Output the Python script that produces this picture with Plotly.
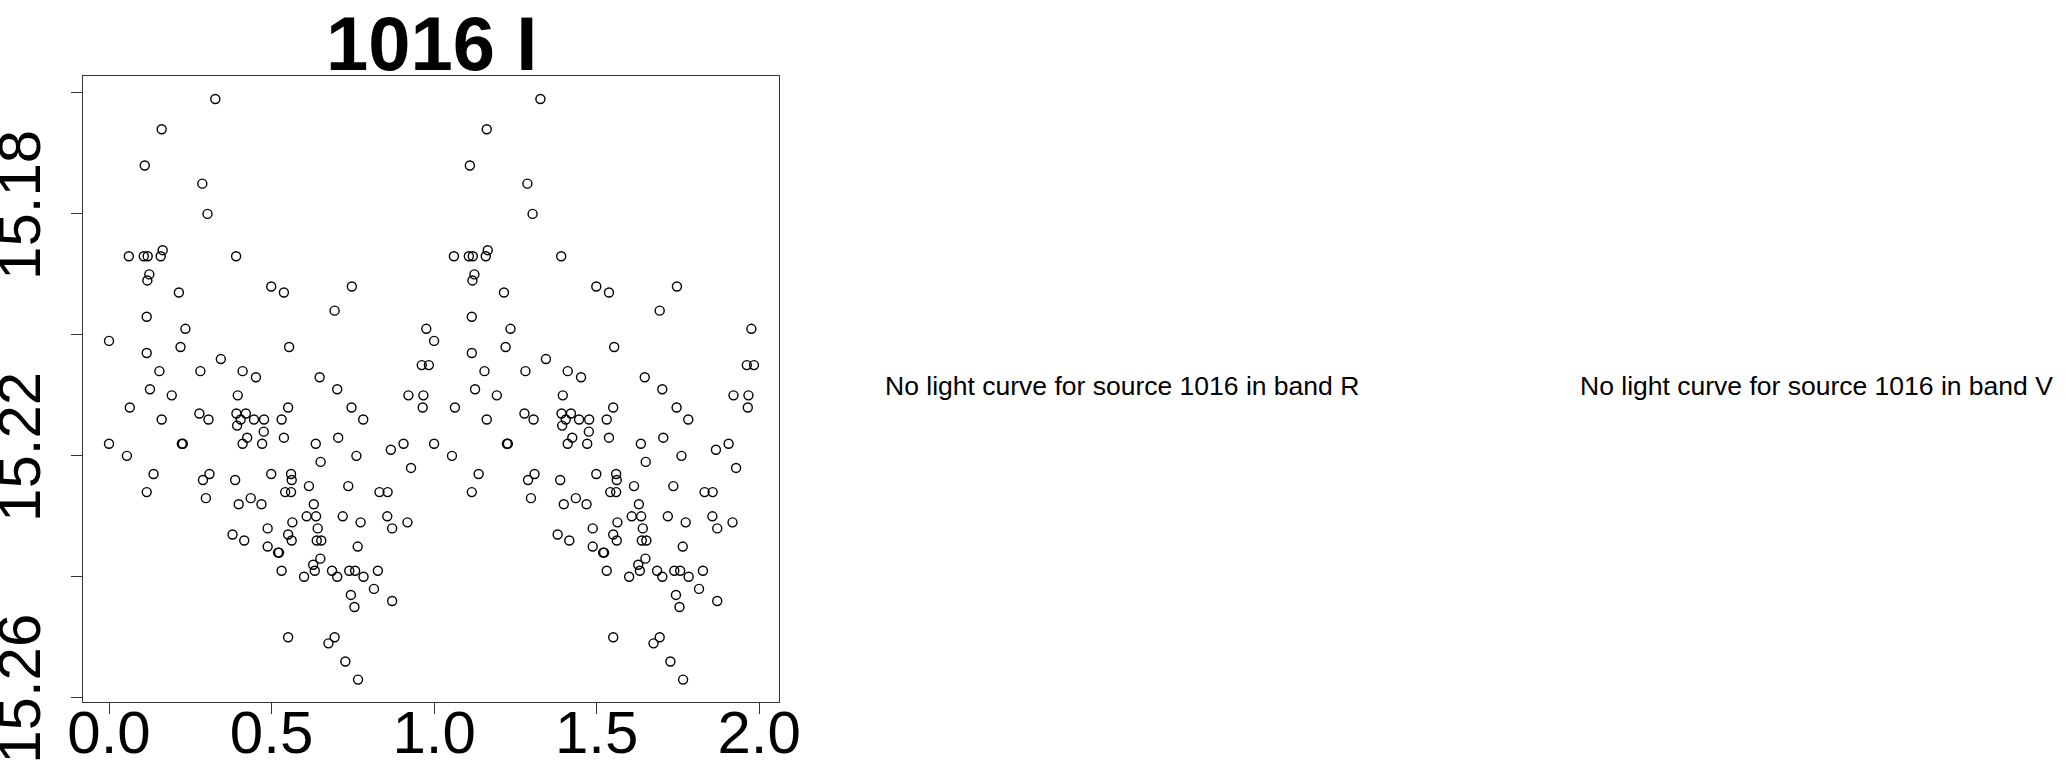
import plotly.graph_objects as go

# Phase-folded light curve of source 1016, band I (one cycle; plotted twice)
phase = [0.327, 0.162, 0.110, 0.287, 0.303, 0.061, 0.107, 0.119, 0.159, 0.165,
         0.391, 0.124, 0.118, 0.499, 0.538, 0.215, 0.747, 0.694, 0.116, 0.235,
         0.000, 0.220, 0.554, 0.116, 0.344, 0.962, 0.984, 0.976, 0.155, 0.281,
         0.411, 0.452, 0.648, 0.126, 0.702, 0.193, 0.396, 0.921, 0.967, 0.064,
         0.551, 0.746, 0.965, 0.278, 0.392, 0.421, 0.162, 0.306, 0.405, 0.446,
         0.477, 0.531, 0.782, 0.394, 0.476, 0.425, 0.538, 0.705, 0.000, 0.224,
         0.227, 0.411, 0.471, 0.636, 0.906, 0.867, 0.055, 0.761, 0.651, 0.929,
         0.137, 0.309, 0.499, 0.560, 0.289, 0.388, 0.562, 0.615, 0.736, 0.116,
         0.542, 0.560, 0.832, 0.857, 0.298, 0.436, 0.399, 0.469, 0.630, 0.608,
         0.637, 0.719, 0.856, 0.564, 0.774, 0.918, 0.488, 0.642, 0.871, 0.380,
         0.551, 0.416, 0.562, 0.639, 0.653, 0.488, 0.765, 0.520, 0.523, 0.650,
         0.628, 0.531, 0.633, 0.686, 0.739, 0.757, 0.827, 0.600, 0.702, 0.783,
         0.815, 0.744, 0.871, 0.755, 0.551, 0.694, 0.675, 0.727, 0.766]
mag = [15.161, 15.166, 15.172, 15.175, 15.180, 15.187, 15.187, 15.187, 15.187, 15.186,
       15.187, 15.190, 15.191, 15.192, 15.193, 15.193, 15.192, 15.196, 15.197, 15.199,
       15.201, 15.202, 15.202, 15.203, 15.204, 15.205, 15.205, 15.199, 15.206, 15.206,
       15.206, 15.207, 15.207, 15.209, 15.209, 15.210, 15.210, 15.210, 15.210, 15.212,
       15.212, 15.212, 15.212, 15.213, 15.213, 15.213, 15.214, 15.214, 15.214, 15.214,
       15.214, 15.214, 15.214, 15.215, 15.216, 15.217, 15.217, 15.217, 15.218, 15.218,
       15.218, 15.218, 15.218, 15.218, 15.218, 15.219, 15.220, 15.220, 15.221, 15.222,
       15.223, 15.223, 15.223, 15.223, 15.224, 15.224, 15.224, 15.225, 15.225, 15.226,
       15.226, 15.226, 15.226, 15.226, 15.227, 15.227, 15.228, 15.228, 15.228, 15.230,
       15.230, 15.230, 15.230, 15.231, 15.231, 15.231, 15.232, 15.232, 15.232, 15.233,
       15.233, 15.234, 15.234, 15.234, 15.234, 15.235, 15.235, 15.236, 15.236, 15.237,
       15.238, 15.239, 15.239, 15.239, 15.239, 15.239, 15.239, 15.240, 15.240, 15.240,
       15.242, 15.243, 15.244, 15.245, 15.250, 15.250, 15.251, 15.254, 15.257]

title_text = "1016 I"
missing_bands = ["R", "V"]
source_id = "1016"
x_ticks = [0.0, 0.5, 1.0, 1.5, 2.0]
x_ticklabels = ["0.0", "0.5", "1.0", "1.5", "2.0"]
y_ticks = [15.16, 15.18, 15.20, 15.22, 15.24, 15.26]
y_ticklabels = ["", "15.18", "", "15.22", "", "15.26"]

# two cycles
x_all = phase + [p + 1 for p in phase]
y_all = mag + mag

W, H = 2065, 767
L, R_, T, B = 83, 779, 76, 702

fig = go.Figure()
fig.add_trace(go.Scatter(
    x=x_all, y=y_all, mode="markers",
    marker=dict(symbol="circle-open", size=9, color="black",
                line=dict(color="black", width=1.4)),
    showlegend=False, hoverinfo="skip"))

font_family = "Liberation Sans, Arial, Helvetica, sans-serif"

fig.update_layout(
    width=W, height=H,
    margin=dict(l=L, r=W - R_, t=T, b=H - B, pad=0, autoexpand=False),
    paper_bgcolor="white", plot_bgcolor="white",
    font=dict(family=font_family, color="black"),
    xaxis=dict(range=[-0.080, 2.061], tickvals=x_ticks, ticktext=x_ticklabels,
               ticks="outside", ticklen=11, tickwidth=1, tickcolor="#333",
               showline=True, linecolor="#333", linewidth=1, mirror=True,
               showgrid=False, zeroline=False, automargin=False,
               ticklabelstandoff=-33,
               tickfont=dict(size=60, family=font_family)),
    yaxis=dict(range=[15.2607, 15.1572], tickvals=y_ticks, ticktext=y_ticklabels,
               ticks="outside", ticklen=11, tickwidth=1, tickcolor="#333",
               showline=True, linecolor="#333", linewidth=1, mirror=True,
               showgrid=False, zeroline=False, tickangle=-90, automargin=False,
               ticklabelstandoff=7,
               tickfont=dict(size=60, family=font_family)),
)

# Title (placed in the top margin)
fig.add_annotation(text="<b>" + title_text + "</b>", xref="paper", yref="paper",
                   x=0.5, y=1 + T / (B - T), xanchor="center", yanchor="top",
                   showarrow=False, borderpad=0,
                   font=dict(size=76, family=font_family, color="black"))

# Messages for missing bands
msg_centers = [1122, 1816]
for band, cx in zip(missing_bands, msg_centers):
    fig.add_annotation(text=f"No light curve for source {source_id} in band {band}",
                       xref="paper", yref="paper",
                       x=(cx - L) / (R_ - L), y=(B - 386) / (B - T),
                       xanchor="center", yanchor="middle", showarrow=False,
                       font=dict(size=26.5, family=font_family, color="black"))

# remove the default page margin so the figure sits at the window's top-left corner
fig.write_html("out.html", config={"displayModeBar": False},
               post_script="document.body.style.margin='0px';")
